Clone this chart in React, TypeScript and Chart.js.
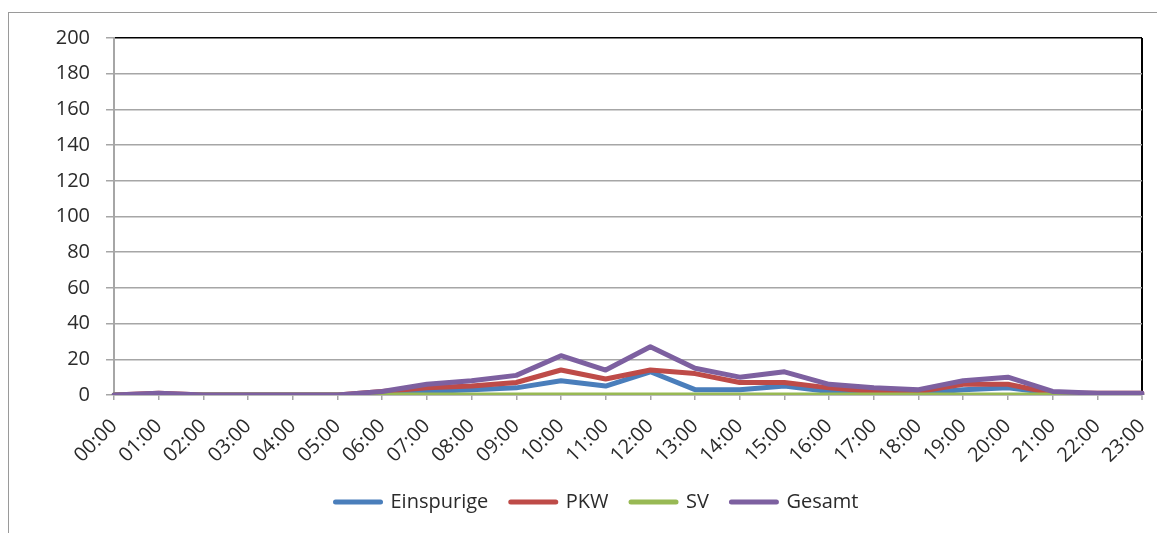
import React, { useEffect, useRef } from 'react';
import { Chart, registerables } from 'chart.js';

Chart.register(...registerables);

const hours = [
  '00:00', '01:00', '02:00', '03:00', '04:00', '05:00', '06:00', '07:00',
  '08:00', '09:00', '10:00', '11:00', '12:00', '13:00', '14:00', '15:00',
  '16:00', '17:00', '18:00', '19:00', '20:00', '21:00', '22:00', '23:00',
];
const einspurige = [0, 0, 0, 0, 0, 0, 0, 2, 3, 4, 8, 5, 13, 3, 3, 5, 2, 2, 1, 3, 4, 1, 0, 0];
const pkw = [0, 1, 0, 0, 0, 0, 2, 4, 5, 7, 14, 9, 14, 12, 7, 7, 4, 2, 2, 6, 6, 1, 1, 1];
const sv = [0, 0, 0, 0, 0, 0, 0, 0, 0, 0, 0, 0, 0, 0, 0, 0, 0, 0, 0, 0, 0, 0, 0, 0];
const gesamt = [0, 1, 0, 0, 0, 0, 2, 6, 8, 11, 22, 14, 27, 15, 10, 13, 6, 4, 3, 8, 10, 2, 1, 1];
const yMin = 0;
const yMax = 200;
const yStep = 20;

const seriesNames = ['Einspurige', 'PKW', 'SV', 'Gesamt'];
const seriesColors = ['#4a7ebb', '#be4b48', '#98b954', '#7d60a0'];

const FONT = "'Open Sans', 'Noto Sans', sans-serif";
const TEXT = '#2b2b2b';
const GRID = '#a6a6a6';
const LW = 5;
const PLOT_BOTTOM = 382;

export default function App() {
  const ref = useRef<HTMLCanvasElement | null>(null);

  useEffect(() => {
    document.documentElement.style.overflow = 'hidden';
    const canvas = ref.current;
    if (!canvas) return;

    const legendPos = {
      id: 'legendPos',
      afterUpdate(chart: any) {
        const lg = chart.legend;
        if (!lg) return;
        const h = lg.bottom - lg.top;
        lg.left = 304;
        lg.right = chart.width;
        lg.top = 456.5;
        lg.bottom = 456.5 + h;
        lg.width = lg.right - lg.left;
        lg.adjustHitBoxes();
      },
    };

    const values = [einspurige, pkw, sv, gesamt];
    const chart = new Chart(canvas, {
      type: 'line',
      data: {
        labels: hours,
        datasets: values.map((v, i) => ({
          label: seriesNames[i],
          data: v,
          borderColor: seriesColors[i],
          backgroundColor: seriesColors[i],
          borderWidth: LW,
          pointRadius: 0,
          pointHoverRadius: 0,
          pointBorderWidth: LW,
          pointBorderColor: seriesColors[i],
          tension: 0,
          borderJoinStyle: 'round' as const,
          borderCapStyle: 'round' as const,
          order: 4 - i,
          fill: false,
        })),
      },
      options: {
        responsive: false,
        animation: false,
        layout: { padding: { left: 0, right: 15, top: 25, bottom: 0 } },
        plugins: {
          tooltip: { enabled: false },
          title: { display: false },
          legend: {
            display: true,
            position: 'bottom',
            align: 'start',
            labels: {
              usePointStyle: true,
              pointStyle: 'line',
              pointStyleWidth: 45,
              padding: 22.5,
              color: TEXT,
              font: { family: FONT, size: 20 },
              sort: (a: any, b: any) => a.datasetIndex - b.datasetIndex,
              generateLabels: (c: any) =>
                (Chart.defaults.plugins.legend.labels as any)
                  .generateLabels(c)
                  .map((l: any) => ({ ...l, lineCap: 'round', lineWidth: LW, strokeStyle: seriesColors[l.datasetIndex] })),
            },
          },
        },
        scales: {
          x: {
            type: 'category',
            offset: false,
            afterFit: (s: any) => {
              const lh = s.chart.legend && s.chart.legend.height ? s.chart.legend.height : 55;
              s.height = s.chart.height - PLOT_BOTTOM - lh;
              s.paddingLeft = 0;
              s.paddingRight = 0;
            },
            grid: {
              display: true,
              drawOnChartArea: true,
              color: (ctx: any) => (ctx.index === hours.length - 1 ? '#000000' : 'rgba(0,0,0,0)'),
              lineWidth: (ctx: any) => (ctx.index === hours.length - 1 ? 2 : 1.5),
              tickColor: GRID,
              tickLength: 5,
              tickWidth: 1.5,
            },
            border: { display: true, color: GRID, width: 1.5 },
            ticks: {
              autoSkip: false,
              minRotation: 45,
              maxRotation: 45,
              padding: 23,
              color: TEXT,
              font: { family: FONT, size: 20, lineHeight: 0 },
            },
          },
          y: {
            min: yMin,
            max: yMax,
            afterFit: (s: any) => {
              s.width = 105;
              s.paddingTop = 0;
              s.paddingBottom = 0;
            },
            grid: {
              color: (ctx: any) => (ctx.tick && ctx.tick.value === yMax ? '#000000' : GRID),
              lineWidth: 1.5,
              tickColor: GRID,
              tickLength: 8,
              tickWidth: 1.5,
            },
            border: { display: true, color: GRID, width: 2 },
            ticks: {
              stepSize: yStep,
              padding: 16,
              color: TEXT,
              font: { family: FONT, size: 20 },
            },
          },
        },
      },
      plugins: [legendPos],
    } as any);

    return () => chart.destroy();
  }, []);

  return (
    <div style={{ paddingTop: 4 }}>
      <div
        style={{
          borderTop: '1px solid #9a9a9a',
          borderLeft: '1px solid #9a9a9a',
          width: 1160,
          height: 525,
          boxSizing: 'content-box',
        }}
      >
        <canvas ref={ref} width={1148} height={520} style={{ display: 'block', width: 1148, height: 520 }} />
      </div>
    </div>
  );
}
